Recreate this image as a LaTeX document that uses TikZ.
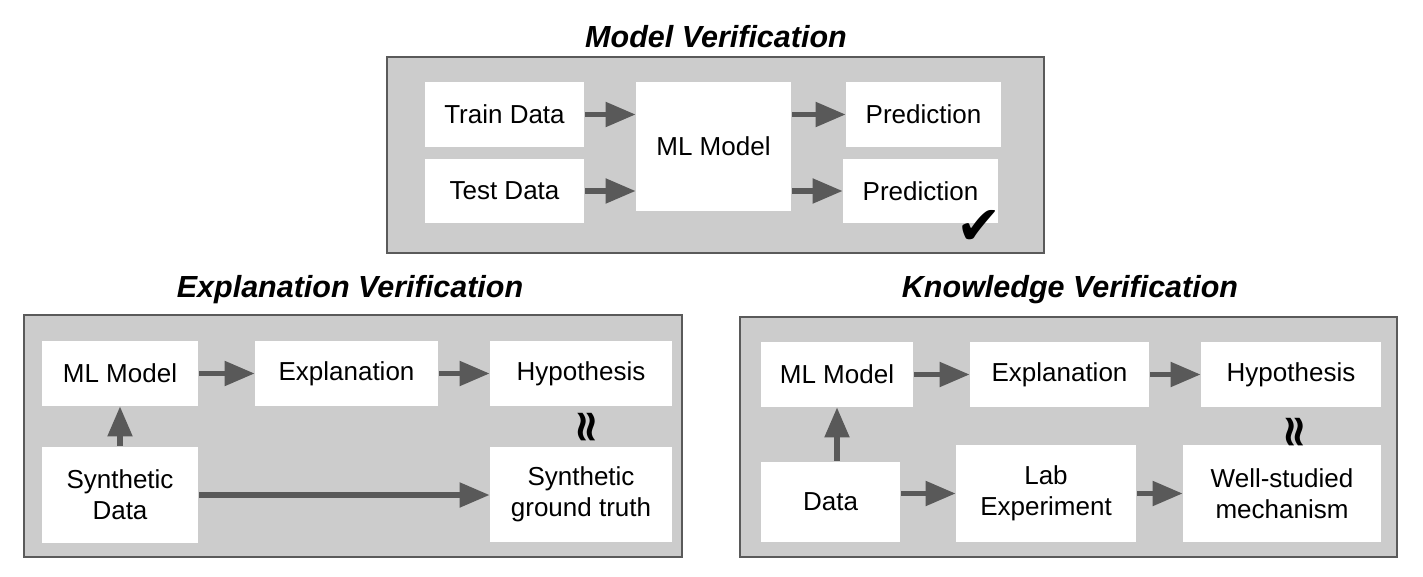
\documentclass[tikz,border=0pt]{standalone}
\usepackage{fontspec}
\setmainfont{Liberation Sans}
\newfontfamily\symfont{DejaVu Sans}
\usetikzlibrary{arrows.meta}
\definecolor{panelgray}{HTML}{CCCCCC}
\definecolor{edgegray}{HTML}{5A5A5A}
\definecolor{arrowgray}{HTML}{595959}
\begin{document}
\begin{tikzpicture}[x=0.5pt,y=-0.5pt,
  panel/.style={draw=edgegray, fill=panelgray, line width=0.8pt, inner sep=0pt},
  wbox/.style={fill=white, inner sep=0pt, align=center, font=\fontsize{13}{15.5}\selectfont},
  ptitle/.style={font=\fontsize{15.25}{18}\selectfont\bfseries\itshape},
  arr/.style={-{Triangle[length=15pt,width=12pt]}, line width=2.6pt, draw=arrowgray, shorten <=0.5pt},
  approxsym/.style={rotate=90, font=\symfont\bfseries\fontsize{22}{22}\selectfont},
]
\useasboundingbox[fill=white] (0,0) rectangle (1423,577);

% ---------- Model Verification ----------
\node[ptitle] (t1) at (716,37) {Model Verification};
\node[panel, minimum width=328.5pt, minimum height=98pt] (p1) at (715.5,155) {};
\node[wbox, minimum width=79.5pt, minimum height=32.5pt] (train) at (504.5,114.5) {Train Data};
\node[wbox, minimum width=79.5pt, minimum height=32pt] (test) at (504.5,191) {Test Data};
\node[wbox, minimum width=77.5pt, minimum height=64.5pt] (ml) at (713.5,146.5) {ML Model};
\node[wbox, minimum width=77.5pt, minimum height=32.5pt] (pred1) at (923.5,114.5) {Prediction};
\node[wbox, minimum width=77.5pt, minimum height=32pt] (pred2) at (920.5,191) {Prediction};
\node[font=\symfont\fontsize{27}{27}\selectfont] (check) at (979,227) {✔};
\draw[arr] (train) -- (train -| ml.west);
\draw[arr] (test) -- (test -| ml.west);
\draw[arr] (pred1 -| ml.east) -- (pred1);
\draw[arr] (pred2 -| ml.east) -- (pred2);

% ---------- Explanation Verification ----------
\node[ptitle] (t2) at (350,290) {Explanation Verification};
\node[panel, minimum width=329pt, minimum height=121pt] (p2) at (353,436) {};
\node[wbox, minimum width=78pt, minimum height=32.5pt] (lml) at (120,373.5) {ML Model};
\node[wbox, minimum width=91.5pt, minimum height=32.5pt] (lexp) at (346.5,373.5) {Explanation};
\node[wbox, minimum width=91pt, minimum height=32.5pt] (lhyp) at (581,373.5) {Hypothesis};
\node[wbox, minimum width=78pt, minimum height=48pt] (lsyn) at (120,495) {Synthetic\\Data};
\node[wbox, minimum width=91pt, minimum height=47.5pt] (lgt) at (581,494.5) {Synthetic\\ground truth};
\node[approxsym] (lapprox) at (589,427) {≈};
\draw[arr] (lml) -- (lml -| lexp.west);
\draw[arr] (lexp) -- (lexp -| lhyp.west);
\draw[arr] (lsyn) -- (lml.south);
\draw[arr] (lsyn) -- (lsyn -| lgt.west);

% ---------- Knowledge Verification ----------
\node[ptitle] (t3) at (1070,290) {Knowledge Verification};
\node[panel, minimum width=328.5pt, minimum height=120pt] (p3) at (1068.5,437) {};
\node[wbox, minimum width=76pt, minimum height=32.5pt] (rml) at (837,374.5) {ML Model};
\node[wbox, minimum width=89.5pt, minimum height=32.5pt] (rexp) at (1059.5,374.5) {Explanation};
\node[wbox, minimum width=90pt, minimum height=32.5pt] (rhyp) at (1291,374.5) {Hypothesis};
\node[wbox, minimum width=69.5pt, minimum height=40pt] (rdata) at (830.5,502) {Data};
\node[wbox, minimum width=90pt, minimum height=48.5pt] (rlab) at (1046,493.5) {Lab\\Experiment};
\node[wbox, minimum width=99pt, minimum height=48.5pt] (rwell) at (1282,493.5) {Well-studied\\mechanism};
\node[approxsym] (rapprox) at (1297,432) {≈};
\draw[arr] (rml) -- (rml -| rexp.west);
\draw[arr] (rexp) -- (rexp -| rhyp.west);
\draw[arr] (rml |- rdata.north) -- (rml.south);
\draw[arr] (rdata.east |- rlab) -- (rlab.west);
\draw[arr] (rlab) -- (rlab -| rwell.west);
\end{tikzpicture}
\end{document}
